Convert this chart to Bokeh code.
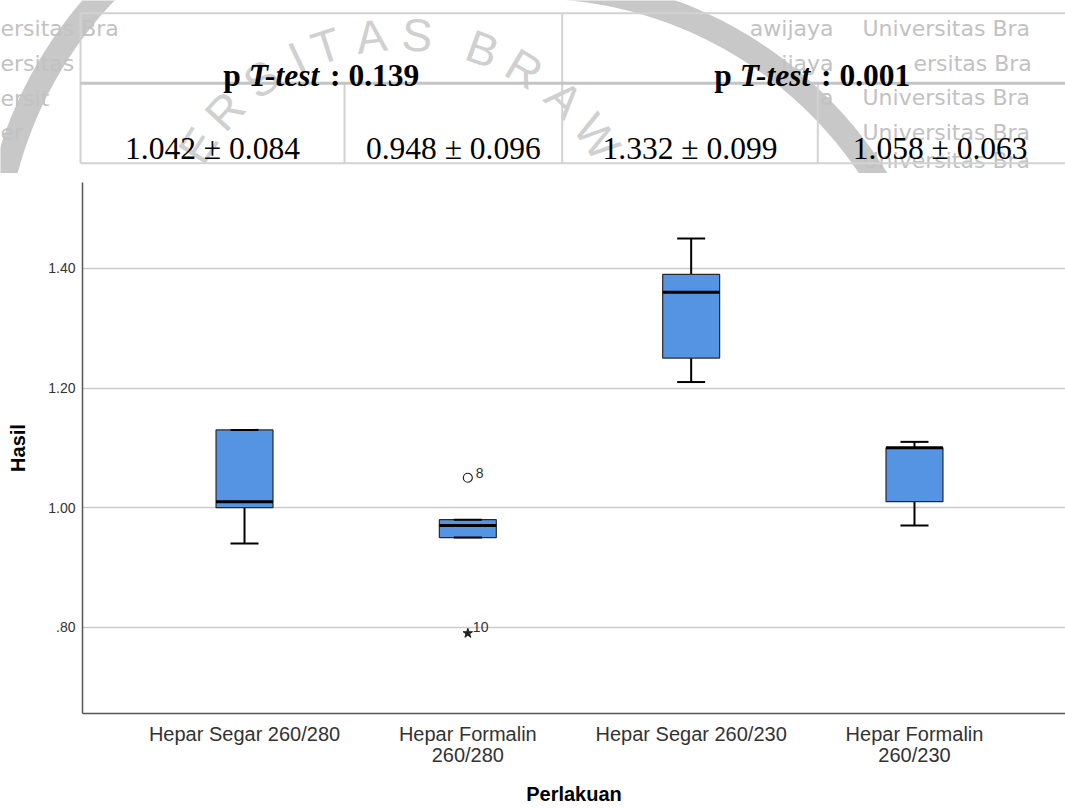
import math
import numpy as np
from bokeh.plotting import figure
from bokeh.models import Range1d, FixedTicker, CustomJSTickFormatter, ColumnDataSource, LinearAxis
from bokeh.layouts import column
from bokeh.transform import dodge
from bokeh.core.properties import value
from bokeh.embed import file_html
from bokeh.resources import INLINE

# ---------------- data ----------------
categories = ["Hepar Segar 260/280", "Hepar Formalin\n260/280",
              "Hepar Segar 260/230", "Hepar Formalin\n260/230"]
whisker_low = [0.94, 0.95, 1.21, 0.97]
q1 = [1.00, 0.95, 1.25, 1.01]
median = [1.01, 0.97, 1.36, 1.10]
q3 = [1.13, 0.98, 1.39, 1.10]
whisker_high = [1.13, 0.98, 1.45, 1.11]

outlier_group = [1]
outlier_value = [1.05]
outlier_case = ["8"]
extreme_group = [1]
extreme_value = [0.79]
extreme_case = ["10"]

y_ticks = [0.80, 1.00, 1.20, 1.40]
x_title = "Perlakuan"
y_title = "Hasil"

p_ttest = ["0.139", "0.001"]
mean_sd = ["1.042 \u00b1 0.084", "0.948 \u00b1 0.096", "1.332 \u00b1 0.099", "1.058 \u00b1 0.063"]

# ---------------- table + watermark figure ----------------
W = 1065
TOP_H = 173
CHART_H = 808 - TOP_H
SERIF = value("Liberation Serif")
SANS = value("Liberation Sans")

tf = figure(width=W, height=TOP_H, x_range=Range1d(0, W), y_range=Range1d(TOP_H, 0),
            output_backend="svg", toolbar_location=None, min_border=0,
            x_axis_type=None, y_axis_type=None, outline_line_color=None)
tf.grid.visible = False
tf.frame_align = False


def ring(cx, cy, r, a0, a1):
    a = np.radians(np.linspace(a0, a1, 90))
    return list(cx + r * np.cos(a)), list(cy + r * np.sin(a))


# watermark rings
for (cx, cy, r, a0, a1) in [(400, 274, 408, 188, 236), (530, 394, 408, 272, 335)]:
    xs, ys = ring(cx, cy, r, a0, a1)
    tf.line(xs, ys, line_width=24, line_color="#c8c8c8", line_cap="butt")

# watermark arc letters
wm_letters = ["E", "R", "S", "I", "T", "A", "S", "B", "R", "A", "W"]
wm_angles = [212.5, 223, 234.5, 244.5, 252, 263, 274, 290, 301, 313, 325]
lx = [400 + 240 * math.cos(math.radians(a)) for a in wm_angles]
ly = [274 + 240 * math.sin(math.radians(a)) for a in wm_angles]
lr = [math.radians(270 - a) for a in wm_angles]
tf.text(x=lx, y=ly, text=wm_letters, angle=lr, text_font=SANS, text_font_size="46px",
        text_color="#d0d0d0", text_align="center", text_baseline="middle")

# watermark repeated lines
WMF = value("DejaVu Sans")
wm_left = ["ersitas Bra", "ersitas", "ersit", "er"]
wm_left_y = [27.5, 63, 98, 132]
tf.text(x=[0] * 4, y=wm_left_y, text=wm_left, text_font=WMF, text_font_size="22px",
        text_color="#c2c2c2", text_align="left", text_baseline="alphabetic")
wm_r1 = ["awijaya", "ijaya", "a"]
tf.text(x=[833] * 3, y=[27.5, 63, 97], text=wm_r1, text_font=WMF, text_font_size="22px",
        text_color="#c2c2c2", text_align="right", text_baseline="alphabetic")
wm_r2 = ["Universitas Bra", "ersitas Bra", "Universitas Bra", "Universitas Bra", "Universitas Bra"]
tf.text(x=[862, 913, 862, 862, 862], y=[27.5, 63, 97, 132, 160], text=wm_r2, text_font=WMF,
        text_font_size="22px", text_color="#c2c2c2", text_align="left", text_baseline="alphabetic")

# table grid lines
TL, TR, TT, TM, TB = 80, 1065, 12.7, 82.7, 162.7
tf.segment(x0=[TL, TL, TL, 561.7, 344, 817.3], y0=[TT, TB, TT, TT, TM, TM],
           x1=[TR, TR, TL, 561.7, 344, 817.3], y1=[TT, TB, TB, TB, TB, TB],
           line_color="#d2d2d2", line_width=2)
tf.segment(x0=[TL], y0=[TM], x1=[TR], y1=[TM], line_color="#c4c4c4", line_width=3)

# header cells: "p T-test : value"
FS = 31.5
hdr_cx = [(TL + 561.7) / 2, (561.7 + 1062) / 2]
w_p = 0.806 * FS
w_tt = 2.333 * FS
w_rest = 3.083 * FS
start = -(w_p + w_tt + w_rest) / 2
hy = [75, 75]
tf.text(x=hdr_cx, y=hy, text=["p", "p"], x_offset=start, text_font=SERIF,
        text_font_size=f"{FS}px", text_font_style="bold", text_color="black",
        text_align="left", text_baseline="alphabetic")
tf.text(x=hdr_cx, y=hy, text=["T-test", "T-test"], x_offset=start + w_p, text_font=SERIF,
        text_font_size=f"{FS}px", text_font_style="bold italic", text_color="black",
        text_align="left", text_baseline="alphabetic")
tf.text(x=hdr_cx, y=hy, text=[": " + v for v in p_ttest], x_offset=start + w_p + w_tt + 0.25 * FS,
        text_font=SERIF, text_font_size=f"{FS}px", text_font_style="bold", text_color="black",
        text_align="left", text_baseline="alphabetic")

row_cx = [(TL + 344) / 2, (344 + 561.7) / 2, (561.7 + 817.3) / 2, (817.3 + 1062) / 2]
tf.text(x=row_cx, y=[148.3] * 4, text=mean_sd, text_font=SERIF, text_font_size=f"{FS}px",
        text_color="black", text_align="center", text_baseline="alphabetic")

# ---------------- box plot ----------------
STEP = 223.3
FRAME_L = 82
x_idx = list(range(len(categories)))
line1 = [c.split("\n")[0] for c in categories]
line2 = [c.split("\n")[1] if "\n" in c else "" for c in categories]

cf = figure(width=W, height=CHART_H,
            x_range=Range1d(-(244 - FRAME_L) / STEP, 3 + (W - 914) / STEP),
            y_range=Range1d(0.6559, 1.5436),
            output_backend="svg", toolbar_location=None,
            min_border_left=FRAME_L, min_border_right=0, min_border_top=9, min_border_bottom=95,
            outline_line_color=None)
cf.frame_align = False

cf.xgrid.visible = False
cf.ygrid.ticker = FixedTicker(ticks=y_ticks)
cf.ygrid.grid_line_color = "#cccccc"
cf.ygrid.grid_line_width = 1.5

x2 = LinearAxis()
cf.add_layout(x2, "below")

cf.xaxis[0].ticker = FixedTicker(ticks=x_idx)
cf.xaxis[0].major_label_overrides = {i: c for i, c in zip(x_idx, line1)}
x2.ticker = FixedTicker(ticks=x_idx)
x2.major_label_overrides = {i: c for i, c in zip(x_idx, line2)}
cf.yaxis.ticker = FixedTicker(ticks=y_ticks)
cf.yaxis.formatter = CustomJSTickFormatter(code="return tick.toFixed(2).replace(/^0\\./, '.');")

for ax in (cf.xaxis[0], x2, cf.yaxis[0]):
    ax.major_tick_line_color = None
    ax.minor_tick_line_color = None
    ax.major_tick_out = 0
    ax.major_tick_in = 0
    ax.minor_tick_out = 0
    ax.minor_tick_in = 0
    ax.axis_line_color = "#555555"
    ax.axis_line_width = 1.5
    ax.major_label_text_font = "Liberation Sans"
    ax.major_label_text_color = "#333333"
    ax.axis_label_text_font = "Liberation Sans"
    ax.axis_label_text_font_style = "bold"
    ax.axis_label_text_font_size = "20px"
    ax.axis_label_text_color = "black"

cf.xaxis[0].major_label_text_font_size = "20px"
cf.xaxis[0].major_label_standoff = 9
x2.axis_line_color = None
x2.major_label_text_font_size = "20px"
x2.major_label_standoff = -4
x2.axis_label = x_title
x2.axis_label_standoff = 14
cf.yaxis.major_label_text_font_size = "14px"
cf.yaxis.major_label_standoff = 7
cf.yaxis.axis_label = y_title
cf.yaxis.axis_label_standoff = 16

src = ColumnDataSource(dict(x=x_idx, lo=whisker_low, q1=q1, med=median, q3=q3, hi=whisker_high))
BOX_W = 0.255
CAP_H = 0.0627

cf.segment(x0="x", y0="lo", x1="x", y1="q1", source=src, line_color="black", line_width=2)
cf.segment(x0="x", y0="q3", x1="x", y1="hi", source=src, line_color="black", line_width=2)
cf.vbar(x="x", width=BOX_W, bottom="q1", top="q3", source=src,
        fill_color="#5594e2", line_color="#2a2a2a", line_width=1.2)
cf.segment(x0=dodge("x", -BOX_W / 2), y0="med", x1=dodge("x", BOX_W / 2), y1="med",
           source=src, line_color="black", line_width=3)
cf.segment(x0=dodge("x", -CAP_H), y0="lo", x1=dodge("x", CAP_H), y1="lo",
           source=src, line_color="black", line_width=2)
cf.segment(x0=dodge("x", -CAP_H), y0="hi", x1=dodge("x", CAP_H), y1="hi",
           source=src, line_color="black", line_width=2)

cf.scatter(x=outlier_group, y=outlier_value, marker="circle", size=9,
           fill_color="white", line_color="#222222", line_width=1.2)
cf.text(x=outlier_group, y=outlier_value, text=outlier_case, x_offset=8, y_offset=-5,
        text_font=SANS, text_font_size="14px", text_color="#333333",
        text_align="left", text_baseline="alphabetic")
cf.scatter(x=extreme_group, y=extreme_value, marker="star", size=10,
           fill_color="#222222", line_color="#222222")
cf.text(x=extreme_group, y=extreme_value, text=extreme_case, x_offset=5, y_offset=-6,
        text_font=SANS, text_font_size="14px", text_color="#333333",
        text_align="left", text_baseline="alphabetic")

layout = column(tf, cf, spacing=0)
open("out.html", "w").write(file_html(layout, INLINE))
